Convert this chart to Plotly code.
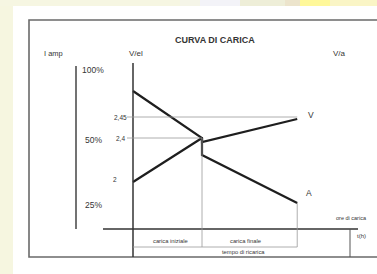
import plotly.graph_objects as go

W, H = 377, 274

# ---- schematic data (diagram units: time in phase units, level above time axis) ----
phase_time = [0, 1, 1, 2.38]          # start, end of initial charge (step), end of final charge
current_level = [138, 91, 74, 26]     # curve A (I amp)
voltage_level = [47, 91, 87, 110]     # curve V (V/el)

volt_ticks = ["2", "2,4", "2,45"]
volt_tick_level = [50, 91, 112]
amp_ticks = ["100%", "50%", "25%"]
amp_tick_level = [159, 89, 24]

# pixel mapping of the diagram axes
X0, XS = 133, 69      # px of t=0, px per time unit
Y0 = 229              # px of level 0


def px(t):
    return X0 + XS * t


def py(lv):
    return Y0 - lv


def P(x):
    return x / W


def Q(y):
    return 1 - y / H


fig = go.Figure()

ink = "#1e1e1e"
fig.add_trace(go.Scatter(x=phase_time, y=current_level, mode="lines",
                         line=dict(color=ink, width=2.2), hoverinfo="skip"))
fig.add_trace(go.Scatter(x=phase_time, y=voltage_level, mode="lines",
                         line=dict(color=ink, width=2.2), hoverinfo="skip"))

shapes = []
# background strips
strip = [(0, 180, "#f6f6e2"), (180, 200, "#f5f5e8"), (200, 240, "#f3f3f8"),
         (240, 285, "#eeeed8"), (285, 300, "#ece4cc"), (300, 330, "#fff89a"),
         (330, 377, "#faf5c6")]
for a, b, c in strip:
    shapes.append(dict(type="rect", xref="paper", yref="paper", x0=P(a), x1=P(b),
                       y0=Q(6), y1=1, fillcolor=c, line=dict(width=0), layer="below"))
shapes.append(dict(type="rect", xref="paper", yref="paper", x0=P(13), x1=1,
                   y0=0, y1=Q(6), fillcolor="white", line=dict(width=0), layer="below"))
# frame
shapes.append(dict(type="rect", xref="paper", yref="paper", x0=P(29), x1=P(385),
                   y0=Q(257), y1=Q(20), line=dict(color="#6a6a6a", width=1.6),
                   fillcolor="rgba(0,0,0,0)"))


def seg(x0, y0, x1, y1, color="#3a3a3a", width=1.3):
    shapes.append(dict(type="line", xref="paper", yref="paper", x0=P(x0), y0=Q(y0),
                       x1=P(x1), y1=Q(y1), line=dict(color=color, width=width)))


# axes
seg(76, 66, 76, py(0), "#444", 1.5)                    # I amp axis
seg(px(0), 63, px(0), 257, "#333", 1.5)                # V axis
seg(103, py(0), 358, py(0), "#333", 1.3)               # time axis
seg(350, py(0), 350, 257, "#555", 1.0)
# guide lines
light = "#9a9a9a"
seg(127, py(volt_tick_level[2]), px(phase_time[3]), py(volt_tick_level[2]), light, 0.8)
seg(127, py(volt_tick_level[1]), px(phase_time[1]), py(volt_tick_level[1]), light, 0.8)
seg(px(phase_time[1]), py(voltage_level[1]), px(phase_time[1]), 247, light, 0.8)
seg(px(phase_time[3]), py(current_level[3]), px(phase_time[3]), 247, light, 0.8)
seg(px(0), 247, px(phase_time[3]), 247, light, 0.8)

fig.update_layout(shapes=shapes)

font = "Liberation Sans"
txt = "#353535"


def label(x, y, s, size=6, bold=False):
    fig.add_annotation(xref="paper", yref="paper", x=P(x), y=Q(y), text=("<b>%s</b>" % s) if bold else s,
                       showarrow=False, font=dict(family=font, size=size, color=txt),
                       xanchor="center", yanchor="middle")


label(215, 40, "CURVA DI CARICA", 9, True)
label(53, 53, "I amp", 7.5)
label(136, 53, "V/el", 8)
label(339, 53, "V/a", 8)
for s, lv in zip(amp_ticks, amp_tick_level):
    label(93, py(lv), s, 8.5)
for s, lv in zip(volt_ticks, volt_tick_level):
    label(120 if s != "2" else 115, py(lv), s, 6.5)
label(311, py(voltage_level[3]) - 4, "V", 8.5)
label(309, py(current_level[3]) - 10, "A", 8.5)
label(351, 218, "ore di carica", 5.5)
label(361, 236, "t(h)", 6)
label(170, 241, "carica iniziale", 5.8)
label(245, 241, "carica finale", 5.8)
label(243, 252, "tempo di ricarica", 5.8)

fig.update_layout(
    width=W, height=H, margin=dict(l=0, r=0, t=0, b=0),
    paper_bgcolor="#f6f6e0", plot_bgcolor="rgba(0,0,0,0)",
    showlegend=False,
    xaxis=dict(range=[(0 - X0) / XS, (W - X0) / XS], visible=False, fixedrange=True),
    yaxis=dict(range=[Y0 - H, Y0], visible=False, fixedrange=True),
)

fig.write_html("out.html", config={"displayModeBar": False},
               post_script="document.body.style.margin='0';")
